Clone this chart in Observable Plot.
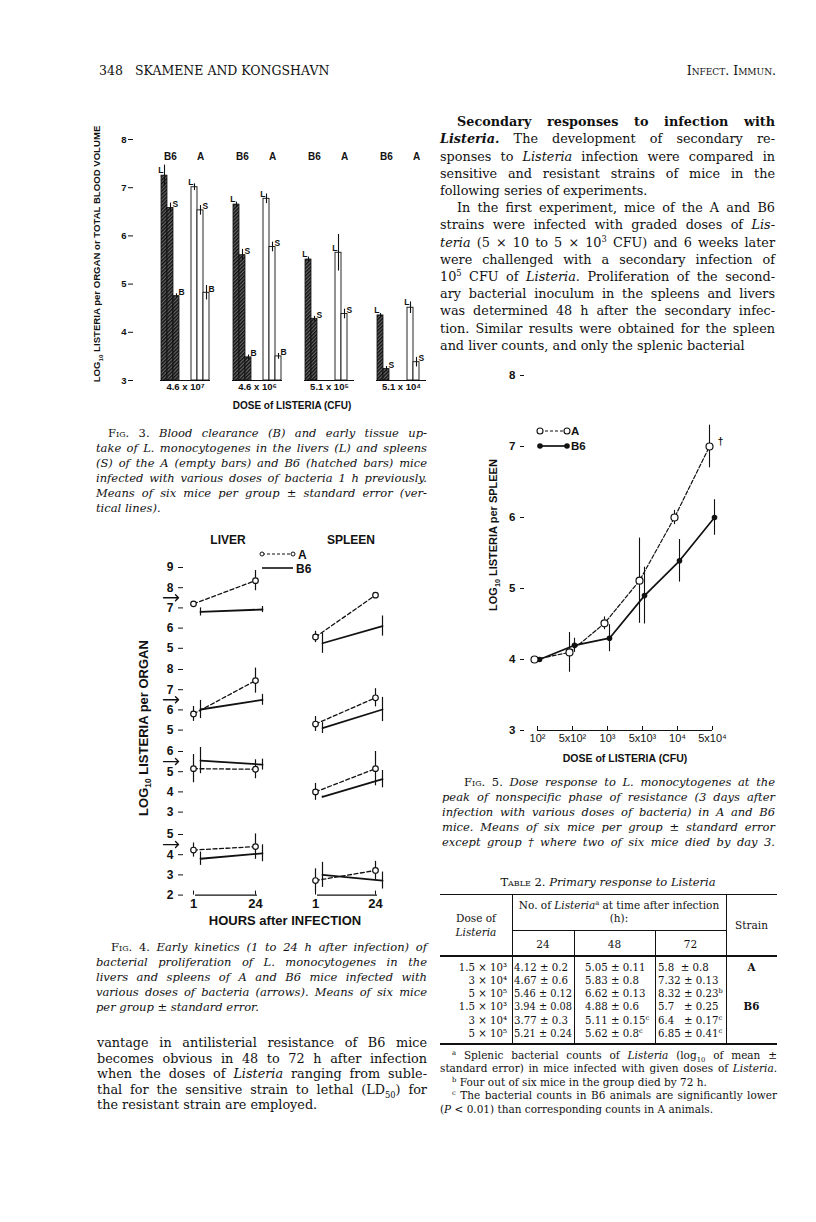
<!DOCTYPE html>
<html><head><meta charset="utf-8">
<script src="https://cdn.jsdelivr.net/npm/d3@7"></script>
<script src="https://cdn.jsdelivr.net/npm/@observablehq/plot@0.6"></script>
<style>
body{margin:0;background:#fff;}
#page{position:relative;width:816px;height:1222px;overflow:hidden;background:#fff;color:#111;}
.ln{position:absolute;white-space:pre;}
.ln .t{display:inline-block;transform-origin:0 50%;}
sup,sub{line-height:0;font-size:65%;}
.rule{position:absolute;background:#111;}
</style></head><body><div id="page"></div>
<script>
// ================= DATA =================
// Fig. 3 — bars (dose group, strain, organ, log10 value, s.e.)
const fig3Doses = ["4.6 x 10⁷", "4.6 x 10⁶", "5.1 x 10⁵", "5.1 x 10⁴"];
const fig3BarDose = ["4.6 x 10⁷","4.6 x 10⁷","4.6 x 10⁷","4.6 x 10⁷","4.6 x 10⁷","4.6 x 10⁷",
  "4.6 x 10⁶","4.6 x 10⁶","4.6 x 10⁶","4.6 x 10⁶","4.6 x 10⁶","4.6 x 10⁶",
  "5.1 x 10⁵","5.1 x 10⁵","5.1 x 10⁵","5.1 x 10⁵",
  "5.1 x 10⁴","5.1 x 10⁴","5.1 x 10⁴","5.1 x 10⁴"];
const fig3Strain = ["B6","B6","B6","A","A","A", "B6","B6","B6","A","A","A", "B6","B6","A","A", "B6","B6","A","A"];
const fig3Organ  = ["L","S","B","L","S","B", "L","S","B","L","S","B", "L","S","L","S", "L","S","L","S"];
const fig3Value  = [7.25,6.58,4.75,7.01,6.53,4.82, 6.65,5.6,3.48,6.77,5.77,3.5, 5.51,4.28,5.65,4.38, 4.35,3.24,4.51,3.38];
const fig3Err    = [0.22,0.1,0.05,0.07,0.1,0.15, 0.05,0.12,0.05,0.1,0.1,0.06, 0.05,0.05,0.38,0.1, 0.04,0.05,0.12,0.1];
const fig3YTicks = [3,4,5,6,7,8];
const fig3Slots  = ["B6 L","B6 S","B6 B","gap1","gap2","A L","A S","A B"];

// Fig. 4 — early kinetics, four dose rows, values at 1 h and 24 h
const hours = [1, 24];
const fig4Ticks = [[5,6,7,8,9],[5,6,7,8],[3,4,5,6],[2,3,4,5]];
const fig4Arrow = [7.5, 6.5, 5.5, 4.5];
const liverA      = [[7.2,8.35],[5.8,7.45],[5.15,5.12],[4.23,4.4]];
const liverAErr   = [[0.1,0.5],[0.37,0.62],[0.7,0.47],[0.35,0.63]];
const liverB6     = [[6.8,6.92],[6.02,6.5],[5.55,5.35],[3.8,4.07]];
const liverB6Err  = [[0.2,0.15],[0.45,0.27],[0.65,0.27],[0.33,0.42]];
const spleenA     = [[5.56,7.63],[5.3,6.6],[4.0,5.15],[2.72,3.22]];
const spleenAErr  = [[0.28,0.08],[0.37,0.45],[0.42,0.85],[0.58,0.45]];
const spleenB6    = [[5.25,6.1],[5.1,6.02],[3.75,4.63],[3.0,2.72]];
const spleenB6Err = [[0.5,0.5],[0.27,0.6],[0.04,0.43],[0.62,0.42]];

// Fig. 5 — dose response
const f5Doses  = ["10²","5x10²","10³","5x10³","10⁴","5x10⁴"];
const f5A      = [4.0, 4.1, 4.51, 5.11, 6.0, 7.0];
const f5AErr   = [0, 0.28, 0.09, 0.6, 0.1, 0.3];
const f5B6     = [4.0, 4.2, 4.3, 4.9, 5.39, 6.0];
const f5B6Err  = [0, 0.1, 0.19, 0.4, 0.3, 0.25];
const f5Note   = ["","","","","","†"];
const f5YTicks = [3,4,5,6,7,8];

// Table 2
const tDose   = ["1.5 × 10³","3 × 10⁴","5 × 10⁵","1.5 × 10³","3 × 10⁴","5 × 10⁵"];
const t24     = ["4.12 ± 0.2","4.67 ± 0.6","5.46 ± 0.12","3.94 ± 0.08","3.77 ± 0.3","5.21 ± 0.24"];
const t48     = ["5.05 ± 0.11","5.83 ± 0.8","6.62 ± 0.13","4.88 ± 0.6","5.11 ± 0.15<sup>c</sup>","5.62 ± 0.8<sup>c</sup>"];
const t72     = ["5.8  ± 0.8","7.32 ± 0.13","8.32 ± 0.23<sup>b</sup>","5.7   ± 0.25","6.4   ± 0.17<sup>c</sup>","6.85 ± 0.41<sup>c</sup>"];
const tStrain = ["A","","","B6","",""];

// ================= HELPERS =================
const page = document.getElementById("page");
const SERIF = '"DejaVu Serif", serif';
const SANS = '"Liberation Sans", Arial, sans-serif';
function txt(html, o) {
  const d = document.createElement("div");
  d.className = "ln";
  const lh = o.lh || Math.round(o.size * 1.3);
  d.style.cssText = `left:${o.x}px;top:${o.y - lh/2}px;height:${lh}px;line-height:${lh}px;font-size:${o.size}px;font-family:${o.fam||SERIF};font-style:${o.it?"italic":"normal"};font-weight:${o.bold?"bold":"normal"};`;
  const s = document.createElement("span"); s.className = "t"; s.innerHTML = html;
  d.appendChild(s); page.appendChild(d);
  const nat = s.getBoundingClientRect().width;
  let fw = nat;
  if (o.w) {
    if (nat > o.w) { s.style.transform = `scaleX(${o.w/nat})`; fw = o.w; }
    else if (o.justify) {
      const n = (s.textContent.match(/ /g) || []).length;
      if (n) { s.style.wordSpacing = ((o.w - nat) / n) + "px"; fw = o.w; }
    }
  }
  if (o.align === "center") d.style.left = (o.x - fw/2) + "px";
  if (o.align === "right") d.style.left = (o.x - fw) + "px";
  return d;
}
function para(lines, o) {
  lines.forEach((l, i) => {
    const ind = (o.indentLines || [0]).includes(i) ? (o.indent || 0) : 0;
    txt(l, {...o, x: o.x + ind, y: o.y + i * o.dy, w: o.w - ind,
      justify: o.justifyAll ? true : i < lines.length - 1 && !(o.noJustify || []).includes(i)});
  });
}
function rot(html, cx, cy, size) {
  const d = document.createElement("div");
  d.style.cssText = `position:absolute;left:${cx}px;top:${cy}px;transform:translate(-50%,-50%) rotate(-90deg);white-space:nowrap;font:bold ${size}px ${SANS};line-height:1;`;
  d.innerHTML = html; page.appendChild(d);
}
function hr(x, y, w, t) { const d = document.createElement("div"); d.className = "rule"; d.style.cssText = `left:${x}px;top:${y - t/2}px;width:${w}px;height:${t}px;`; page.appendChild(d); }
function vr(x, y1, y2, t) { const d = document.createElement("div"); d.className = "rule"; d.style.cssText = `left:${x - t/2}px;top:${y1}px;width:${t}px;height:${y2 - y1}px;`; page.appendChild(d); }
function place(svg, left, top) {
  svg.style.position = "absolute"; svg.style.left = left + "px"; svg.style.top = top + "px";
  svg.style.background = "transparent"; svg.style.overflow = "visible"; svg.style.maxWidth = "none";
  page.appendChild(svg); return svg;
}
const plotStyle = (size) => ({fontFamily: SANS, fontSize: size + "px", fontWeight: "bold", color: "#111", background: "transparent", overflow: "visible"});

// ================= HEADER =================
txt("348", {x: 99, y: 71, size: 12.5});
txt("SKAMENE AND KONGSHAVN", {x: 135, y: 71, size: 12.5});
txt('<span style="font-variant:small-caps">Infect. Immun.</span>', {x: 776, y: 71, size: 12.5, align: "right"});

// ================= FIG 3 =================
const f3Bars = fig3Value.map((v, i) => ({dose: fig3BarDose[i], strain: fig3Strain[i], organ: fig3Organ[i],
  slot: fig3Strain[i] + " " + fig3Organ[i], v, e: fig3Err[i]}));
const f3Groups = fig3Doses.flatMap(d => [{dose: d, slot: "B6 S", strain: "B6"}, {dose: d, slot: "A S", strain: "A"}]);
const f3Base = fig3Doses.map(d => ({dose: d, y: fig3YTicks[0]}));

place(Plot.plot({
  width: 40, height: 300, marginLeft: 33, marginRight: 5, marginTop: 19, marginBottom: 40,
  x: {domain: [0, 1], axis: null}, y: {domain: [3, 8]},
  style: plotStyle(9.5),
  marks: [Plot.axisY({ticks: fig3YTicks, tickSize: 5, tickPadding: 2, line: true, label: null, tickFormat: d => d})]
}), 100, 120);

const f3 = Plot.plot({
  width: 345, height: 300, marginLeft: 68, marginRight: 7, marginTop: 19, marginBottom: 40,
  fx: {domain: fig3Doses, paddingInner: 0.3, paddingOuter: 0, label: null},
  x: {domain: fig3Slots, padding: 0, axis: null},
  y: {domain: [3, 8], axis: null},
  style: plotStyle(9.5),
  marks: [
    Plot.ruleY(f3Base, {fx: "dose", y: "y", strokeWidth: 1}),
    Plot.barY(f3Bars.filter(d => d.strain === "B6"), {fx: "dose", x: "slot", y1: () => fig3YTicks[0], y2: "v", fill: "url(#hatch3)", stroke: "#111", strokeWidth: 0.8}),
    Plot.barY(f3Bars.filter(d => d.strain === "A"), {fx: "dose", x: "slot", y1: () => fig3YTicks[0], y2: "v", fill: "white", stroke: "#111", strokeWidth: 0.9}),
    Plot.ruleX(f3Bars, {fx: "dose", x: "slot", y1: d => d.v - d.e, y2: d => d.v + d.e, strokeWidth: 1.1}),
    Plot.text(f3Bars.filter(d => d.organ === "L"), {fx: "dose", x: "slot", y: "v", text: "organ", textAnchor: "end", dx: -1, dy: -5, fontSize: 8.5}),
    Plot.text(f3Bars.filter(d => d.organ !== "L"), {fx: "dose", x: "slot", y: "v", text: "organ", textAnchor: "start", dx: 2, dy: -4, fontSize: 8.5}),
    Plot.text(f3Groups, {fx: "dose", x: "slot", text: "strain", frameAnchor: "top", dy: 13, fontSize: 10}),
    Plot.axisFx({anchor: "bottom", tickSize: 0, tickPadding: 3, label: null, fontSize: 9.5})
  ]
});
const defs = document.createElementNS("http://www.w3.org/2000/svg", "defs");
defs.innerHTML = '<pattern id="hatch3" patternUnits="userSpaceOnUse" width="2.6" height="2.6" patternTransform="rotate(45)"><rect width="2.6" height="2.6" fill="#666"/><rect width="1.4" height="2.6" fill="#111"/></pattern>';
f3.prepend(defs);
place(f3, 90, 120);

rot("LOG<sub>10</sub> LISTERIA per ORGAN or TOTAL BLOOD VOLUME", 97, 254, 9.6);
txt("DOSE of LISTERIA (CFU)", {x: 292, y: 405, size: 10, fam: SANS, bold: true, align: "center"});

para([
  '<span style="font-style:normal;font-variant:small-caps">Fig.</span><span style="font-style:normal"> 3.</span> Blood clearance (B) and early tissue up-',
  'take of L. monocytogenes in the livers (L) and spleens',
  '(S) of the A (empty bars) and B6 (hatched bars) mice',
  'infected with various doses of bacteria 1 h previously.',
  'Means of six mice per group ± standard error (ver-',
  'tical lines).'
], {x: 96, y: 433, dy: 15, w: 331, size: 11.5, it: true, indent: 12, lh: 15});

// ================= FIG 4 =================
txt("LIVER", {x: 228, y: 540, size: 12, fam: SANS, bold: true, align: "center"});
txt("SPLEEN", {x: 351, y: 540, size: 12, fam: SANS, bold: true, align: "center"});
const lg4 = document.createElementNS("http://www.w3.org/2000/svg", "svg");
lg4.setAttribute("width", 70); lg4.setAttribute("height", 30);
lg4.innerHTML = `<line x1="2" y1="6" x2="33" y2="6" stroke="#111" stroke-width="1.2" stroke-dasharray="3,2"/>
<circle cx="2" cy="6" r="2" fill="white" stroke="#111"/><circle cx="33" cy="6" r="2" fill="white" stroke="#111"/>
<text x="38" y="10.5" font-family='Liberation Sans' font-weight="bold" font-size="12" fill="#111">A</text>
<line x1="2" y1="20" x2="33" y2="20" stroke="#111" stroke-width="1.6"/>
<text x="36" y="24.5" font-family='Liberation Sans' font-weight="bold" font-size="12" fill="#111">B6</text>`;
place(lg4, 260, 548);

const rowTop = [566.5, 669, 750.7, 833.5];
const unit4 = 20.2;
function fig4Panel(organ, r) {
  const liver = organ === "LIVER";
  const A = hours.map((h, i) => ({h, v: (liver ? liverA : spleenA)[r][i], e: (liver ? liverAErr : spleenAErr)[r][i]}));
  const B = hours.map((h, i) => ({h, v: (liver ? liverB6 : spleenB6)[r][i], e: (liver ? liverB6Err : spleenB6Err)[r][i]}));
  const ticks = fig4Ticks[r];
  const lo = ticks[0], hi = ticks[ticks.length - 1];
  const mt = 25, mb = r === 3 ? 40 : 25;
  const g = liver ? {left: 120, width: 170, ml: 58, mr: 20} : {left: 290, width: 110, ml: 10, mr: 10};
  const marks = [
    Plot.ruleX(A, {x: "h", y1: d => d.v - d.e, y2: d => d.v + d.e, strokeWidth: 1.2}),
    Plot.ruleX(B, {x: "h", y1: d => d.v - d.e, y2: d => d.v + d.e, strokeWidth: 1.2, dx: 7}),
    Plot.line(A, {x: "h", y: "v", strokeDasharray: "4,2.5", strokeWidth: 1.3}),
    Plot.line(B, {x: "h", y: "v", strokeWidth: 1.8, dx: 7}),
    Plot.dot(A, {x: "h", y: "v", r: 2.8, fill: "white", stroke: "#111", strokeWidth: 1.2})
  ];
  if (liver) {
    marks.push(Plot.axisY({ticks, tickSize: -5, tickPadding: 10, line: true, label: null, tickFormat: d => d, fontSize: 12}));
    marks.push(Plot.vector([fig4Arrow[r]], {y: d => d, frameAnchor: "left", rotate: 90, length: 15, anchor: "end", strokeWidth: 1.4}));
  }
  if (r === 3) {
    marks.push(Plot.ruleY([lo], {x1: () => hours[0], x2: () => hours[1], dx: 2, strokeWidth: 1.2}));
    marks.push(Plot.axisX({ticks: hours, tickSize: -4, tickPadding: 8, label: null, tickFormat: d => d, fontSize: 13}));
  }
  const svg = Plot.plot({
    width: g.width, height: mt + (hi - lo) * unit4 + mb,
    marginTop: mt, marginBottom: mb, marginLeft: g.ml, marginRight: g.mr,
    x: {domain: [1, 24], inset: 15, ...(r === 3 ? {} : {axis: null})},
    y: {domain: [lo, hi], ...(liver ? {} : {axis: null})},
    style: plotStyle(12),
    marks
  });
  place(svg, g.left, rowTop[r] - mt);
}
for (let r = 0; r < 4; r++) { fig4Panel("LIVER", r); fig4Panel("SPLEEN", r); }
rot("LOG<sub>10</sub> LISTERIA per ORGAN", 143, 728, 13);
txt("HOURS after INFECTION", {x: 285, y: 920, size: 13, fam: SANS, bold: true, align: "center"});

para([
  '<span style="font-style:normal;font-variant:small-caps">Fig.</span><span style="font-style:normal"> 4.</span> Early kinetics (1 to 24 h after infection) of',
  'bacterial proliferation of L. monocytogenes in the',
  'livers and spleens of A and B6 mice infected with',
  'various doses of bacteria (arrows). Means of six mice',
  'per group ± standard error.'
], {x: 96, y: 947, dy: 15, w: 331, size: 11.5, it: true, indent: 15, lh: 15});

para([
  'vantage in antilisterial resistance of B6 mice',
  'becomes obvious in 48 to 72 h after infection',
  'when the doses of <i>Listeria</i> ranging from suble-',
  'thal for the sensitive strain to lethal (LD<sub>50</sub>) for',
  'the resistant strain are employed.'
], {x: 97, y: 1043, dy: 15.5, w: 330, size: 12.8, lh: 16});

// ================= RIGHT COLUMN TEXT =================
para([
  '<b>Secondary responses to infection with</b>',
  '<b><i>Listeria.</i></b> The development of secondary re-',
  'sponses to <i>Listeria</i> infection were compared in',
  'sensitive and resistant strains of mice in the',
  'following series of experiments.',
  'In the first experiment, mice of the A and B6',
  'strains were infected with graded doses of <i>Lis-</i>',
  '<i>teria</i> (5 × 10 to 5 × 10<sup>3</sup> CFU) and 6 weeks later',
  'were challenged with a secondary infection of',
  '10<sup>5</sup> CFU of <i>Listeria</i>. Proliferation of the second-',
  'ary bacterial inoculum in the spleens and livers',
  'was determined 48 h after the secondary infec-',
  'tion. Similar results were obtained for the spleen',
  'and liver counts, and only the splenic bacterial'
], {x: 440, y: 121.7, dy: 17.2, w: 335, size: 12.8, lh: 17, indent: 17, indentLines: [0, 5], noJustify: [4], justifyAll: false});

// ================= FIG 5 =================
const f5Data = f5Doses.map((d, i) => ({d, a: f5A[i], ae: f5AErr[i], b: f5B6[i], be: f5B6Err[i], note: f5Note[i]}));
place(Plot.plot({
  width: 340, height: 440, marginTop: 35, marginBottom: 50, marginLeft: 80, marginRight: 68,
  x: {type: "point", domain: f5Doses, padding: 0, insetLeft: 17},
  y: {domain: [3, 8]},
  style: plotStyle(11),
  marks: [
    Plot.axisY({ticks: f5YTicks, tickSize: -4, tickPadding: 9, line: true, label: null, tickFormat: d => d, fontSize: 11.5}),
    Plot.axisX({tickSize: -4, tickPadding: 8, label: null, fontSize: 11, fontWeight: "normal"}),
    Plot.ruleY([f5YTicks[0]], {x1: () => f5Doses[0], x2: () => f5Doses[f5Doses.length - 1], strokeWidth: 1.2}),
    Plot.ruleX(f5Data.filter(d => d.be > 0), {x: "d", y1: d => d.b - d.be, y2: d => d.b + d.be, dx: 2, strokeWidth: 1.1}),
    Plot.ruleX(f5Data.filter(d => d.ae > 0), {x: "d", y1: d => d.a - d.ae, y2: d => d.a + d.ae, dx: -3, strokeWidth: 1.1}),
    Plot.line(f5Data, {x: "d", y: "b", dx: 2, strokeWidth: 1.7}),
    Plot.line(f5Data, {x: "d", y: "a", dx: -3, strokeWidth: 1.2, strokeDasharray: "4,2"}),
    Plot.dot(f5Data, {x: "d", y: "b", dx: 2, r: 2.8, fill: "#111"}),
    Plot.dot(f5Data, {x: "d", y: "a", dx: -3, r: 3.5, fill: "white", stroke: "#111", strokeWidth: 1.2}),
    Plot.text(f5Data, {x: "d", y: "a", text: "note", dx: 8, dy: -5, fontSize: 10})
  ]
}), 440, 340);
const lg5 = document.createElementNS("http://www.w3.org/2000/svg", "svg");
lg5.setAttribute("width", 70); lg5.setAttribute("height", 30);
lg5.innerHTML = `<line x1="4" y1="5" x2="31" y2="5" stroke="#111" stroke-width="1.2" stroke-dasharray="3,2"/>
<circle cx="4" cy="5" r="3" fill="white" stroke="#111" stroke-width="1.1"/><circle cx="31" cy="5" r="3" fill="white" stroke="#111" stroke-width="1.1"/>
<text x="35" y="9" font-family='Liberation Sans' font-weight="bold" font-size="11.5" fill="#111">A</text>
<line x1="4" y1="20" x2="31" y2="20" stroke="#111" stroke-width="1.7"/>
<circle cx="4" cy="20" r="2.8" fill="#111"/><circle cx="31" cy="20" r="2.8" fill="#111"/>
<text x="35" y="24" font-family='Liberation Sans' font-weight="bold" font-size="11.5" fill="#111">B6</text>`;
place(lg5, 536, 426);
rot("LOG<sub>10</sub> LISTERIA per SPLEEN", 493, 535, 11);
txt("DOSE of LISTERIA (CFU)", {x: 625, y: 758, size: 10.5, fam: SANS, bold: true, align: "center"});

para([
  '<span style="font-style:normal;font-variant:small-caps">Fig.</span><span style="font-style:normal"> 5.</span> Dose response to L. monocytogenes at the',
  'peak of nonspecific phase of resistance (3 days after',
  'infection with various doses of bacteria) in A and B6',
  'mice. Means of six mice per group ± standard error',
  'except group † where two of six mice died by day 3.'
], {x: 442, y: 782, dy: 15, w: 333, size: 11.5, it: true, indent: 22, lh: 15, justifyAll: true});

// ================= TABLE 2 =================
txt('<span style="font-variant:small-caps">Table</span> 2. <i>Primary response to Listeria</i>', {x: 608, y: 882, size: 11.5, align: "center"});
hr(440, 894.5, 337, 1.5);
hr(512, 930, 214, 1);
hr(440, 956, 337, 1.2);
hr(440, 1044, 337, 1.5);
vr(512, 895, 1044, 1); vr(726, 895, 1044, 1); vr(574, 930, 1044, 1); vr(655, 930, 1044, 1);
txt("Dose of", {x: 476, y: 918, size: 10.5, align: "center"});
txt("<i>Listeria</i>", {x: 476, y: 932, size: 10.5, align: "center"});
txt('No. of <i>Listeria</i><sup>a</sup> at time after infection', {x: 619, y: 905, size: 10.5, align: "center"});
txt("(h):", {x: 619, y: 918, size: 10.5, align: "center"});
txt("Strain", {x: 751.5, y: 925, size: 10.5, align: "center"});
txt("24", {x: 543, y: 944, size: 10.5, align: "center"});
txt("48", {x: 614.5, y: 944, size: 10.5, align: "center"});
txt("72", {x: 690.5, y: 944, size: 10.5, align: "center"});
tDose.forEach((d, i) => {
  const y = 967 + i * 13.3;
  txt(d, {x: 507, y, size: 10.2, align: "right", lh: 13, w: 64});
  txt(t24[i], {x: 514, y, size: 10.2, lh: 13, w: 58});
  txt(t48[i], {x: 585, y, size: 10.2, lh: 13, w: 68});
  txt(t72[i], {x: 658, y, size: 10.2, lh: 13, w: 66});
  if (tStrain[i]) txt(tStrain[i], {x: 751.5, y, size: 10.3, align: "center", bold: true, lh: 13});
});
para([
  '<sup>a</sup> Splenic bacterial counts of <i>Listeria</i> (log<sub>10</sub> of mean ±',
  'standard error) in mice infected with given doses of <i>Listeria.</i>',
  '<sup>b</sup> Four out of six mice in the group died by 72 h.',
  '<sup>c</sup> The bacterial counts in B6 animals are significantly lower',
  '(<i>P</i> &lt; 0.01) than corresponding counts in A animals.'
], {x: 440, y: 1055, dy: 13.5, w: 337, size: 10.5, lh: 13, indent: 12, indentLines: [0, 2, 3], noJustify: [2]});
</script></body></html>
